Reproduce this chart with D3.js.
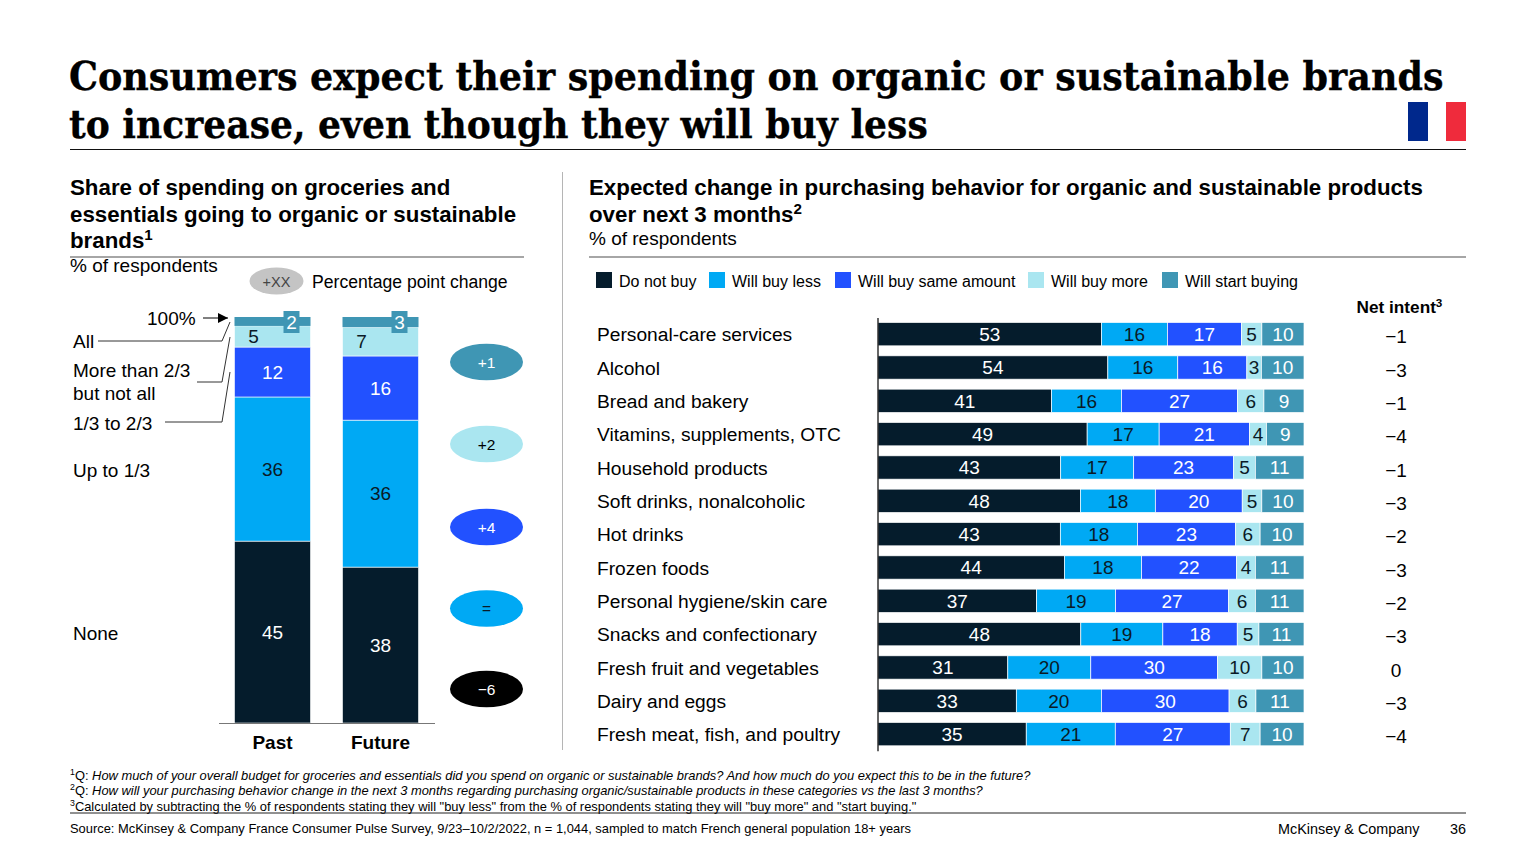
<!DOCTYPE html>
<html><head><meta charset="utf-8">
<script src="https://cdn.jsdelivr.net/npm/d3@7"></script>
<style>
html,body{margin:0;padding:0;background:#fff}
svg{display:block}
text{font-family:"Liberation Sans",Arial,sans-serif;fill:#000}
</style></head><body>
<svg id="c" width="1536" height="864"></svg>
<script>
const seriesKeys = ["Do not buy","Will buy less","Will buy same amount","Will buy more","Will start buying"];
const seriesColors = ["#051C2C","#00A9F4","#2251FF","#AAE6F0","#3F96B4"];
const seriesTextColors = ["#fff","#0a1a26","#fff","#0a1a26","#fff"];

// Values are estimated from the bar lengths; the printed labels are these values rounded.
const periods = ["Past","Future"];
const noneVals = [44.8,38.4];
const upToThirdVals = [35.5,36.2];
const thirdToTwoVals = [12.3,15.8];
const moreThanTwoVals = [5.2,7.1];
const allVals = [2.2,2.5];
const pointChanges = ["+1","+2","+4","=","\u22126"];
const changeColors = ["#3F96B4","#AAE6F0","#2251FF","#00A9F4","#000000"];
const changeTextColors = ["#fff","#000","#fff","#0a1a26","#fff"];

const categories = ["Personal-care services","Alcohol","Bread and bakery","Vitamins, supplements, OTC","Household products","Soft drinks, nonalcoholic","Hot drinks","Frozen foods","Personal hygiene/skin care","Snacks and confectionary","Fresh fruit and vegetables","Dairy and eggs","Fresh meat, fish, and poultry"];
const doNotBuy = [52.5,53.9,40.7,49.1,42.8,47.5,42.8,43.7,37.2,47.7,30.5,32.5,34.8];
const buyLess  = [15.5,16.4,16.4,16.9,17.1,17.6,18.1,18.1,18.5,19.3,19.5,20.0,20.9];
const buySame  = [17.4,16.2,27.2,21.2,23.4,20.4,23.0,22.3,26.5,17.5,29.8,30.0,27.0];
const buyMore  = [4.8,3.4,6.2,4.0,5.1,4.6,5.8,4.4,6.3,5.1,10.4,6.3,7.0];
const startBuy = [9.9,10.0,9.4,8.8,11.4,9.9,10.3,11.4,11.4,10.6,9.9,11.3,10.3];
const netIntent = ["\u22121","\u22123","\u22121","\u22124","\u22121","\u22123","\u22122","\u22123","\u22122","\u22123","0","\u22123","\u22124"];

const svg = d3.select("#c");
const sans = '"Liberation Sans",Arial,sans-serif';

function txt(x,y,parts,o={}){
  const t = svg.append("text").attr("x",x).attr("y",y)
    .attr("font-size",o.size||18).attr("font-weight",o.weight||"normal")
    .attr("text-anchor",o.anchor||"start").style("fill",o.fill||"#000");
  if(o.family) t.style("font-family",o.family);
  (Array.isArray(parts)?parts:[parts]).forEach(p=>{
    if(typeof p==="string"){t.append("tspan").text(p);}
    else{
      const s=t.append("tspan").text(p.t);
      if(p.sup) s.attr("baseline-shift","super").attr("font-size",(o.size||18)*0.68);
      if(p.italic) s.attr("font-style","italic");
    }
  });
  return t;
}
function rule(x1,y1,x2,y2,c="#000",w=1){
  svg.append("line").attr("x1",x1).attr("y1",y1).attr("x2",x2).attr("y2",y2).attr("stroke",c).attr("stroke-width",w);
}
function titleLine(x,y,s,w){
  const t=txt(0,0,s,{size:40,weight:"bold",family:'"DejaVu Serif",serif'}).attr("stroke","#000").attr("stroke-width",0.35);
  const k=w/t.node().getComputedTextLength();
  t.attr("transform",`translate(${x},${y}) scale(${k},1)`);
}

// Title
titleLine(69,90,"Consumers expect their spending on organic or sustainable brands",1375);
titleLine(69,138,"to increase, even though they will buy less",859);
svg.append("rect").attr("x",1408).attr("y",102).attr("width",20).attr("height",39).attr("fill","#00288C");
svg.append("rect").attr("x",1446).attr("y",102).attr("width",20).attr("height",39).attr("fill","#EF2B3C");
rule(70,149.5,1466,149.5,"#111",1);
rule(562.5,172,562.5,750,"#b5b5b5",1);

// Left heading
txt(70,195,"Share of spending on groceries and",{size:22.3,weight:"bold"});
txt(70,222,"essentials going to organic or sustainable",{size:22.3,weight:"bold"});
txt(70,248,["brands",{t:"1",sup:true}],{size:22.3,weight:"bold"});
rule(70,257,524,257,"#888",1.3);
txt(70,272,"% of respondents",{size:19});
svg.append("ellipse").attr("cx",276.5).attr("cy",281).attr("rx",27).attr("ry",13.5).attr("fill","#c4c4c4");
txt(276.5,286.5,"+XX",{size:14.5,anchor:"middle",fill:"#444"});
txt(312,288,"Percentage point change",{size:17.6});

// Left stacked bars
const xL = d3.scaleBand().domain(periods).range([218.5,434.5]).paddingInner(32/108).paddingOuter(16/108);
const yL = d3.scaleLinear().domain([0,100]).range([723,317]);
const leftRows = periods.map((p,i)=>({period:p,none:noneVals[i],up:upToThirdVals[i],third:thirdToTwoVals[i],more:moreThanTwoVals[i],all:allVals[i]}));
const leftKeys=["none","up","third","more","all"];
const leftStack = d3.stack().keys(leftKeys)(leftRows);
leftStack.forEach((layer,li)=>{
  const g=svg.append("g");
  g.selectAll("rect").data(layer).join("rect")
    .attr("x",d=>xL(d.data.period)).attr("width",xL.bandwidth())
    .attr("y",d=>yL(d[1])).attr("height",d=>yL(d[0])-yL(d[1]))
    .attr("fill",seriesColors[li]).attr("stroke","#fff").attr("stroke-width",li==4?0:0.6);
  layer.forEach(d=>{
    const v=Math.round(d.data[leftKeys[li]]), cx=xL(d.data.period)+xL.bandwidth()/2, cy=(yL(d[0])+yL(d[1]))/2;
    if(li==4){
      const bx=xL(d.data.period)+xL.bandwidth()-19;
      svg.append("rect").attr("x",bx-8).attr("y",311).attr("width",16).attr("height",22).attr("fill",seriesColors[4]);
      txt(bx,329,String(v),{size:19,anchor:"middle",fill:"#fff"});
    } else if(li==3){
      txt(cx-19,cy+6.7,String(v),{size:19,anchor:"middle",fill:"#0a1a26"});
    } else {
      txt(cx,cy+6.7,String(v),{size:19,anchor:"middle",fill:seriesTextColors[li]});
    }
  });
});
const axL = svg.append("g").attr("transform","translate(0,723)").call(d3.axisBottom(xL).tickSize(0).tickPadding(13));
axL.select(".domain").attr("stroke","#777").attr("stroke-width",1.2);
axL.selectAll("text").attr("font-size",19).attr("font-weight","bold").style("font-family",sans);

// Left annotations
txt(73,348,"All",{size:19});
txt(73,377,"More than 2/3",{size:19});
txt(73,400,"but not all",{size:19});
txt(73,430,"1/3 to 2/3",{size:19});
txt(73,477,"Up to 1/3",{size:19});
txt(73,640,"None",{size:19});
txt(147,325,"100%",{size:19});
svg.append("defs").append("marker").attr("id","ah").attr("viewBox","0 0 10 10").attr("refX",10).attr("refY",5)
  .attr("markerWidth",10).attr("markerHeight",10).attr("markerUnits","userSpaceOnUse").attr("orient","auto")
  .append("path").attr("d","M0,0L10,5L0,10z").attr("fill","#000");
svg.append("line").attr("x1",203).attr("y1",318).attr("x2",228).attr("y2",318).attr("stroke","#000").attr("marker-end","url(#ah)");
const lead=d3.line();
[[[98,341],[222,341],[230,322]],[[197,382],[222,382],[230,337]],[[165,422],[222,422],[230,372]]].forEach(p=>{
  svg.append("path").attr("d",lead(p)).attr("fill","none").attr("stroke","#333").attr("stroke-width",1);
});

// Change ovals
const yO = d3.scaleOrdinal().domain(pointChanges).range([362,444,527,608.5,689]);
const ov = svg.append("g").selectAll("g").data(pointChanges).join("g").attr("transform",d=>`translate(486.5,${yO(d)})`);
ov.append("ellipse").attr("rx",36.5).attr("ry",18.3).attr("fill",(d,i)=>changeColors[i]);
ov.append("text").attr("text-anchor","middle").attr("y",5.5).attr("font-size",15.5).style("fill",(d,i)=>changeTextColors[i]).text(d=>d);

// Right heading
txt(589,195,"Expected change in purchasing behavior for organic and sustainable products",{size:22.3,weight:"bold"});
txt(589,222,["over next 3 months",{t:"2",sup:true}],{size:22.3,weight:"bold"});
txt(589,245,"% of respondents",{size:19});
rule(589,257,1466,257,"#888",1.3);

// Legend
const legendX=[596,709,835,1028,1162];
seriesKeys.forEach((k,i)=>{
  svg.append("rect").attr("x",legendX[i]).attr("y",272).attr("width",16).attr("height",16).attr("fill",seriesColors[i]);
  txt(legendX[i]+23,287,k,{size:16});
});
txt(1399.5,313,["Net intent",{t:"3",sup:true}],{size:17.2,weight:"bold",anchor:"middle"});

// Right stacked bars
const rightRows = categories.map((c,i)=>({cat:c,[seriesKeys[0]]:doNotBuy[i],[seriesKeys[1]]:buyLess[i],[seriesKeys[2]]:buySame[i],[seriesKeys[3]]:buyMore[i],[seriesKeys[4]]:startBuy[i]}));
const xR = d3.scaleLinear().domain([0,1]).range([878,1304]);
const yR = d3.scaleBand().domain(categories).range([317.5,750.8]).paddingInner(0.3).paddingOuter(0.15);
const rStack = d3.stack().keys(seriesKeys).offset(d3.stackOffsetExpand)(rightRows);
rStack.forEach((layer,li)=>{
  svg.append("g").selectAll("rect").data(layer).join("rect")
    .attr("x",d=>xR(d[0])).attr("width",d=>xR(d[1])-xR(d[0]))
    .attr("y",d=>yR(d.data.cat)).attr("height",yR.bandwidth())
    .attr("fill",seriesColors[li]).attr("stroke","#fff").attr("stroke-width",0.7);
  svg.append("g").selectAll("text").data(layer).join("text")
    .attr("x",d=>(xR(d[0])+xR(d[1]))/2).attr("y",d=>yR(d.data.cat)+yR.bandwidth()/2+6.7)
    .attr("text-anchor","middle").attr("font-size",19).style("fill",seriesTextColors[li])
    .text(d=>Math.round(d.data[seriesKeys[li]]));
});
const axR = svg.append("g").attr("transform","translate(877.5,0)").call(d3.axisLeft(yR).tickSize(0));
axR.select(".domain").attr("stroke","#000").attr("stroke-width",1.2);
axR.selectAll("text").attr("x",597-877.5).attr("text-anchor","start").attr("font-size",19.2).attr("dy","0.37em").style("font-family",sans);

svg.append("g").selectAll("text").data(categories).join("text")
  .attr("x",1396).attr("y",d=>yR(d)+yR.bandwidth()/2+9.2).attr("text-anchor","middle").attr("font-size",19)
  .text((d,i)=>netIntent[i]);

// Footnotes
const fs=12.9;
txt(70,780,[{t:"1",sup:true},"Q: ",{t:"How much of your overall budget for groceries and essentials did you spend on organic or sustainable brands? And how much do you expect this to be in the future?",italic:true}],{size:fs});
txt(70,795,[{t:"2",sup:true},"Q: ",{t:"How will your purchasing behavior change in the next 3 months regarding purchasing organic/sustainable products in these categories vs the last 3 months?",italic:true}],{size:fs});
txt(70,811,[{t:"3",sup:true},"Calculated by subtracting the % of respondents stating they will \"buy less\" from the % of respondents stating they will \"buy more\" and \"start buying.\""],{size:fs});
rule(70,813,1466,813,"#222",1);
txt(70,833,"Source: McKinsey & Company France Consumer Pulse Survey, 9/23\u201310/2/2022, n = 1,044, sampled to match French general population 18+ years",{size:fs});
txt(1278,834,"McKinsey & Company",{size:14.4});
txt(1466,834,"36",{size:14.4,anchor:"end"});
</script></body></html>
